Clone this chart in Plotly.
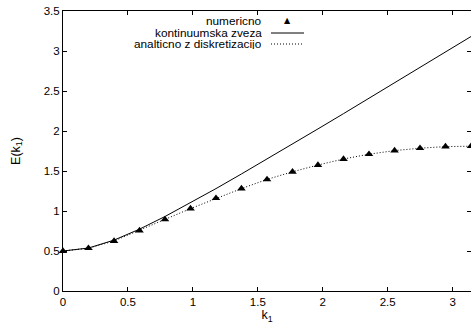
import plotly.graph_objects as go

# k1 grid (n*pi/16)
k_values = [0.0, 0.196, 0.393, 0.589, 0.785, 0.982, 1.178, 1.374, 1.571,
            1.767, 1.963, 2.160, 2.356, 2.553, 2.749, 2.945, 3.1416]
numeric_E = [0.50, 0.535, 0.625, 0.755, 0.895, 1.03, 1.16, 1.28, 1.395,
             1.49, 1.575, 1.65, 1.71, 1.755, 1.785, 1.805, 1.81]
analytic_E = [0.50, 0.535, 0.625, 0.755, 0.895, 1.03, 1.16, 1.28, 1.395,
              1.49, 1.575, 1.65, 1.71, 1.755, 1.785, 1.805, 1.81]
continuum_E = [0.500, 0.537, 0.636, 0.773, 0.931, 1.102, 1.280, 1.463, 1.648,
               1.837, 2.026, 2.217, 2.409, 2.601, 2.794, 2.987, 3.181]

legend_labels = ["numericno", "kontinuumska zveza", "analticno z diskretizacijo"]
x_ticks = [0, 0.5, 1, 1.5, 2, 2.5, 3]
y_ticks = [0, 0.5, 1, 1.5, 2, 2.5, 3, 3.5]

FONT = "Liberation Sans, Arial, sans-serif"
DOT = "1px,2px"

fig = go.Figure()
fig.add_trace(go.Scatter(x=k_values, y=continuum_E, mode="lines",
                         line=dict(color="black", width=1), showlegend=False))
fig.add_trace(go.Scatter(x=k_values, y=analytic_E, mode="lines",
                         line=dict(color="black", width=1, dash=DOT), showlegend=False))
fig.add_trace(go.Scatter(x=k_values, y=numeric_E, mode="markers",
                         marker=dict(symbol="triangle-up", size=7.5, color="black"),
                         showlegend=False, cliponaxis=False))

# gnuplot-style legend (text right, sample on the right)
L, R, T, B = 63, 471, 11, 291
def px(x):
    return (x - L) / (R - L)
def py(y):
    return (B - y) / (B - T)

rows_y = [21, 33, 44]
annotations = []
shapes = []
for lab, yy in zip(legend_labels, rows_y):
    annotations.append(dict(x=px(263), y=py(yy), xref="paper", yref="paper",
                            text=lab, showarrow=False, xanchor="right", yanchor="middle",
                            height=10, borderpad=0,
                            font=dict(family=FONT, size=11.8, color="black")))
annotations.append(dict(x=px(287.5), y=py(rows_y[0]), xref="paper", yref="paper",
                        text="▲", showarrow=False, xanchor="center", yanchor="middle",
                        height=9, borderpad=0,
                        font=dict(family="DejaVu Sans", size=8, color="black")))
shapes.append(dict(type="line", xref="paper", yref="paper",
                   x0=px(271), x1=px(304), y0=py(rows_y[1]), y1=py(rows_y[1]),
                   line=dict(color="black", width=1)))
shapes.append(dict(type="line", xref="paper", yref="paper",
                   x0=px(271), x1=px(304), y0=py(rows_y[2]), y1=py(rows_y[2]),
                   line=dict(color="black", width=1, dash=DOT)))

fig.update_layout(
    width=471, height=328,
    margin=dict(l=63, r=0, t=11, b=37, autoexpand=False),
    paper_bgcolor="white", plot_bgcolor="white",
    font=dict(family=FONT, size=11, color="black"),
    annotations=annotations, shapes=shapes,
    showlegend=False,
)
fig.update_xaxes(range=[0, 3.1416], tickvals=x_ticks, ticks="inside", ticklen=4,
                 tickcolor="black", showline=True, linecolor="black", linewidth=1,
                 mirror="ticks", showgrid=False, zeroline=False, automargin=False,
                 title=dict(text="k<sub>1</sub>", standoff=3,
                            font=dict(family=FONT, size=12.5)),
                 tickfont=dict(family=FONT, size=11.5))
fig.update_yaxes(range=[0, 3.5], tickvals=y_ticks, ticks="inside", ticklen=4,
                 tickcolor="black", showline=True, linecolor="black", linewidth=1,
                 mirror="ticks", showgrid=False, zeroline=False, automargin=False,
                 title=dict(text="E(k<sub>1</sub>)", standoff=20,
                            font=dict(family=FONT, size=12.5)),
                 tickfont=dict(family=FONT, size=11.5))

fig.write_html("out.html",
               config={"displayModeBar": False},
               post_script="document.body.style.margin='0';"
                           "document.body.style.overflow='hidden';")
